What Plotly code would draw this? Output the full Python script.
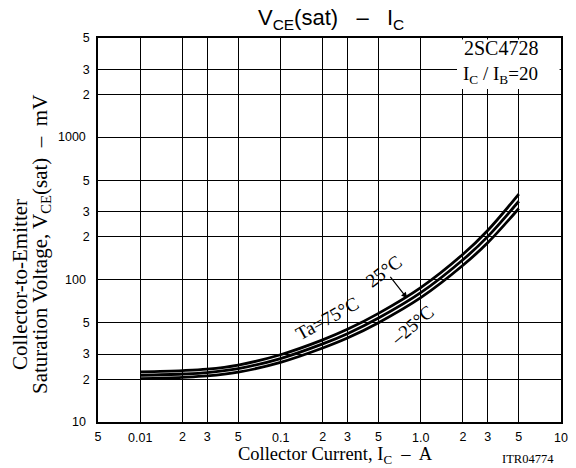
import numpy as np
import plotly.graph_objects as go

# ---- data ----
ic_A = [0.01, 0.02, 0.03, 0.05, 0.1, 0.2, 0.3, 0.5, 1.0, 2.0, 3.0, 5.0]
vce_75 = [22.5, 22.97, 23.53, 25.15, 29.7, 37.8, 44.8, 58.0, 88.0, 151.0, 222.0, 400.0]
vce_25 = [21.31, 21.75, 22.26, 23.74, 27.92, 35.38, 41.75, 53.8, 81.1, 138.2, 200.9, 356.0]
vce_m25 = [20.18, 20.60, 21.06, 22.41, 26.24, 33.12, 38.91, 49.9, 74.8, 126.4, 181.8, 316.8]

x_tickvals = [0.005, 0.01, 0.02, 0.03, 0.05, 0.1, 0.2, 0.3, 0.5, 1.0, 2, 3, 5, 10]
x_ticktext = ["5", "0.01", "2", "3", "5", "0.1", "2", "3", "5", "1.0", "2", "3", "5", "10"]
y_tickvals = [10, 20, 30, 50, 100, 200, 300, 500, 1000, 2000, 3000, 5000]
y_ticktext = ["10", "2", "3", "5", "100", "2", "3", "5", "1000", "2", "3", "5"]

W, H = 576, 468
L, R, T, B = 98, 15, 38, 46
pw, ph = W - L - R, H - T - B

def px(xp):
    return (xp - L) / pw

def py(yp):
    return (H - B - yp) / ph

SERIF = "Liberation Serif, Times New Roman, serif"
SANS = "Liberation Sans, Arial, sans-serif"

fig = go.Figure()
for v in (vce_75, vce_25, vce_m25):
    fig.add_trace(go.Scatter(x=ic_A, y=v, mode="lines",
                             line=dict(color="black", width=2.8, shape="spline", smoothing=1.0),
                             showlegend=False, hoverinfo="skip"))

decade_x = {0.01, 0.1, 1.0, 10}
decade_y = {10, 100, 1000}
xmaj = [(v, t) for v, t in zip(x_tickvals, x_ticktext) if v not in decade_x]
xdec = [(v, t) for v, t in zip(x_tickvals, x_ticktext) if v in decade_x]
ymaj = [(v, t) for v, t in zip(y_tickvals, y_ticktext) if v not in decade_y]
ydec = [(v, t) for v, t in zip(y_tickvals, y_ticktext) if v in decade_y]

fig.update_xaxes(type="log", range=[np.log10(0.005), 1],
                 tickvals=[v for v, _ in xmaj], ticktext=[t for _, t in xmaj],
                 minor=dict(tickvals=[v for v, _ in xdec], showgrid=True,
                            gridcolor="black", gridwidth=1, ticks=""),
                 showgrid=True, gridcolor="black", gridwidth=1, zeroline=False,
                 showline=True, mirror=True, linecolor="black", linewidth=1.5,
                 ticks="", ticklabelstandoff=2,
                 tickfont=dict(family=SANS, size=12.5, color="black"))
fig.update_yaxes(type="log", range=[1, np.log10(5000)],
                 tickvals=[v for v, _ in ymaj], ticktext=[t for _, t in ymaj],
                 minor=dict(tickvals=[v for v, _ in ydec], showgrid=True,
                            gridcolor="black", gridwidth=1, ticks=""),
                 showgrid=True, gridcolor="black", gridwidth=1, zeroline=False,
                 showline=True, mirror=True, linecolor="black", linewidth=1.5,
                 ticks="", ticklabelstandoff=4,
                 tickfont=dict(family=SANS, size=12.5, color="black"))

ann = []
# decade labels (drawn slightly offset in the reference)
for v, t in xdec:
    ann.append(dict(x=np.log10(v), xref="x", y=py(438), yref="paper", text=t,
                    showarrow=False, xanchor="center", yanchor="middle",
                    font=dict(family=SANS, size=12.5, color="black")))
for v, t in ydec:
    ann.append(dict(x=px(88), xref="paper", y=np.log10(v), yref="y", text=t,
                    showarrow=False, xanchor="right", yanchor="middle",
                    font=dict(family=SANS, size=12.5, color="black")))

# title
ann.append(dict(x=px(331), y=py(19), xref="paper", yref="paper",
                text="V<sub>CE</sub>(sat)   \u2013   I<sub>C</sub>", showarrow=False,
                xanchor="center", yanchor="middle", font=dict(family=SANS, size=22, color="black")))
# axis titles
ann.append(dict(x=px(335), y=py(455.5), xref="paper", yref="paper",
                text="Collector Current, I<sub>C</sub>  \u2013  A", showarrow=False,
                xanchor="center", yanchor="middle", font=dict(family=SERIF, size=18.5, color="black")))
ann.append(dict(x=px(528), y=py(459), xref="paper", yref="paper",
                text="ITR04774", showarrow=False,
                xanchor="center", yanchor="middle", font=dict(family=SERIF, size=12.5, color="black")))
ann.append(dict(x=px(20), y=py(285), xref="paper", yref="paper", textangle=-90,
                text="Collector-to-Emitter", showarrow=False,
                xanchor="center", yanchor="middle", font=dict(family=SERIF, size=21, color="black")))
ann.append(dict(x=px(41), y=py(245), xref="paper", yref="paper", textangle=-90,
                text="Saturation Voltage, V<sub>CE</sub>(sat)  \u2013  mV", showarrow=False,
                xanchor="center", yanchor="middle", font=dict(family=SERIF, size=21, color="black")))
# condition box text
ann.append(dict(x=px(462), y=py(48), xref="paper", yref="paper",
                text="2SC4728", showarrow=False,
                xanchor="left", yanchor="middle", font=dict(family=SERIF, size=20, color="black")))
ann.append(dict(x=px(461), y=py(75), xref="paper", yref="paper",
                text="I<sub>C</sub> / I<sub>B</sub>=20", showarrow=False,
                xanchor="left", yanchor="middle", font=dict(family=SERIF, size=19, color="black")))
# curve labels
ann.append(dict(x=np.log10(0.215), y=np.log10(53), xref="x", yref="y", textangle=-29,
                text="Ta=75\u00b0C", showarrow=False, xanchor="center", yanchor="middle",
                font=dict(family=SERIF, size=19, color="black")))
ann.append(dict(x=np.log10(0.54), y=np.log10(115), xref="x", yref="y", textangle=-37,
                text="25\u00b0C", showarrow=False, xanchor="center", yanchor="middle",
                font=dict(family=SERIF, size=19, color="black")))
ann.append(dict(x=np.log10(0.86), y=np.log10(48), xref="x", yref="y", textangle=-40,
                text="\u201325\u00b0C", showarrow=False, xanchor="center", yanchor="middle",
                font=dict(family=SERIF, size=19, color="black")))
ann.append(dict(x=np.log10(0.80), y=np.log10(74), xref="x", yref="y", text="",
                showarrow=True, arrowhead=2, arrowsize=1, arrowwidth=1.2, arrowcolor="black",
                ax=-18, ay=-23, standoff=0))

fig.update_layout(
    width=W, height=H, margin=dict(l=L, r=R, t=T, b=B),
    paper_bgcolor="white", plot_bgcolor="white",
    annotations=ann,
    shapes=[dict(type="rect", xref="paper", yref="paper", x0=px(457), x1=px(559.6),
                 y0=py(89), y1=py(39.4), fillcolor="white", line=dict(width=0),
                 layer="above")],
)

fig.write_html("out.html")
